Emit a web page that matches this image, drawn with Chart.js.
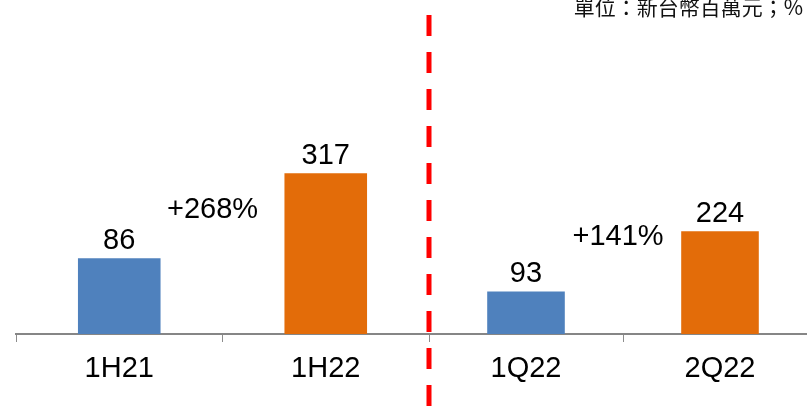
<!DOCTYPE html>
<html lang="zh-Hant">
<head>
  <meta charset="UTF-8" />
  <title>營收比較</title>

  <!-- Chart.js -->
  <script src="https://cdn.jsdelivr.net/npm/chart.js@4.4.0/dist/chart.umd.min.js"></script>

  <style>
    body        { margin:0; width:807px; height:406px; overflow:hidden; position:relative; background:#fff; }
    #leftChart  { position:absolute; left:0; top:0; }
    #rightChart { position:absolute; left:420px; top:0; }
    .unit       { position:absolute; right:4px; top:-4px; font:21px "Noto Sans CJK TC", sans-serif;
                  line-height:1; color:#111; white-space:nowrap; }
  </style>
</head>
<body>
  <canvas id="leftChart" width="440" height="406"></canvas>
  <canvas id="rightChart" width="410" height="406"></canvas>
  <div class="unit">單位：新台幣百萬元；%</div>

  <script>
    /* ── data ── */
    const halfCategories    = ['1H21', '1H22'];
    const halfValues        = [86, 317];
    const quarterCategories = ['1Q22', '2Q22'];
    const quarterValues     = [93, 224];
    const barColors         = ['#4F81BD', '#E36C09'];
    const halfGrowth        = '+268%';
    const quarterGrowth     = '+141%';

    const FONT = { family:'"Liberation Sans", Arial, sans-serif', size:29 };

    /* numbers above each bar */
    const valueLabels = {
      id:'valueLabels',
      afterDatasetsDraw(chart){
        const {ctx} = chart;
        const meta = chart.getDatasetMeta(0);
        const vals = chart.data.datasets[0].data;
        ctx.save();
        ctx.font = `${FONT.size}px ${FONT.family}`;
        ctx.fillStyle = '#000';
        ctx.textAlign = 'center';
        ctx.textBaseline = 'alphabetic';
        meta.data.forEach((bar, i)=> ctx.fillText(String(vals[i]), bar.x, bar.y - 9));
        ctx.restore();
      }
    };

    /* growth text between the two bars */
    function growthLabel(text, yVal, dx){
      return {
        id:'growthLabel',
        afterDatasetsDraw(chart){
          const {ctx, scales} = chart;
          const x = scales.x.getPixelForValue(0.5) + dx;
          const y = scales.y.getPixelForValue(yVal);
          ctx.save();
          ctx.font = `${FONT.size}px ${FONT.family}`;
          ctx.fillStyle = '#000';
          ctx.textAlign = 'center';
          ctx.textBaseline = 'middle';
          ctx.fillText(text, x, y);
          ctx.restore();
        }
      };
    }

    /* red dashed divider on the left edge of the quarter chart */
    const divider = {
      id:'divider',
      afterDraw(chart){
        const {ctx, chartArea} = chart;
        ctx.save();
        ctx.strokeStyle = '#FF0000';
        ctx.lineWidth = 5;
        ctx.setLineDash([21, 16]);
        ctx.beginPath();
        ctx.moveTo(chartArea.left, 15);
        ctx.lineTo(chartArea.left, chart.height);
        ctx.stroke();
        ctx.restore();
      }
    };

    function makeChart(canvas, labels, values, yMin, yMax, padding, plugins){
      return new Chart(canvas, {
        type:'bar',
        data:{
          labels,
          datasets:[{
            data:values,
            backgroundColor:barColors,
            base:yMin,
            barPercentage:0.4,
            categoryPercentage:1
          }]
        },
        options:{
          responsive:false,
          animation:false,
          layout:{ padding },
          plugins:{ legend:{display:false}, tooltip:{enabled:false} },
          scales:{
            x:{
              grid:{ display:true, drawOnChartArea:false, tickLength:8, color:'#8c8c8c', lineWidth:1 },
              border:{ display:true, color:'#868686', width:2 },
              ticks:{ color:'#000', font:FONT, padding:10 },
              afterFit:s=>{ s.height = 72; }
            },
            y:{ display:false, min:yMin, max:yMax }
          }
        },
        plugins
      });
    }

    makeChart(document.getElementById('leftChart'), halfCategories, halfValues,
      -120, 788, { left:16, right:11, top:0, bottom:0 },
      [valueLabels, growthLabel(halfGrowth, 217, -10)]);

    makeChart(document.getElementById('rightChart'), quarterCategories, quarterValues,
      0, 729, { left:9, right:13, top:0, bottom:0 },
      [valueLabels, growthLabel(quarterGrowth, 212, -5), divider]);
  </script>
</body>
</html>
